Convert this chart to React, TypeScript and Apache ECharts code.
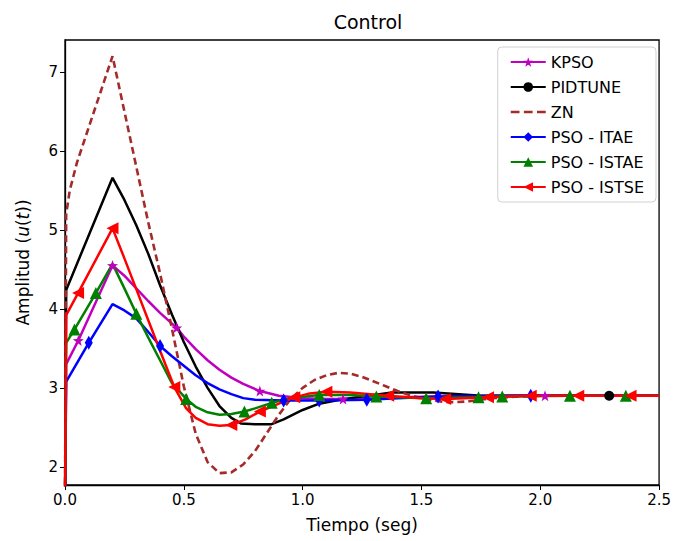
import React, { useEffect, useRef } from "react";
import * as echarts from "echarts";

const seriesNames = ["KPSO", "PIDTUNE", "ZN", "PSO - ITAE", "PSO - ISTAE", "PSO - ISTSE"];
const xTicks = [0, 0.5, 1.0, 1.5, 2.0, 2.5];
const yTicks = [2, 3, 4, 5, 6, 7];

const kpsoT = [0, 0.005, 0.056, 0.2, 0.25, 0.3, 0.35, 0.4, 0.47, 0.5, 0.55, 0.6, 0.65, 0.7, 0.75, 0.82, 0.9, 1.0, 1.1, 1.17, 1.3, 1.4, 1.57, 1.8, 2.02, 2.5];
const kpsoV = [1.5, 3.3, 3.6, 4.55, 4.42, 4.26, 4.1, 3.95, 3.76, 3.65, 3.49, 3.35, 3.23, 3.13, 3.05, 2.96, 2.9, 2.87, 2.86, 2.86, 2.87, 2.88, 2.89, 2.9, 2.9, 2.9];
const kpsoMarks = [0.056, 0.2, 0.47, 0.82, 1.17, 1.57, 2.02];

const pidT = [0, 0.005, 0.2, 0.25, 0.3, 0.35, 0.4, 0.45, 0.5, 0.55, 0.6, 0.65, 0.7, 0.74, 0.8, 0.87, 0.92, 1.0, 1.07, 1.14, 1.2, 1.3, 1.376, 1.55, 1.75, 2.0, 2.29, 2.5];
const pidV = [1.5, 4.24, 5.66, 5.38, 5.06, 4.7, 4.3, 3.93, 3.58, 3.27, 3.0, 2.77, 2.62, 2.55, 2.54, 2.54, 2.6, 2.72, 2.8, 2.84, 2.87, 2.91, 2.94, 2.94, 2.9, 2.9, 2.9, 2.9];
const pidMarks = [2.29];

const znT = [0, 0.005, 0.02, 0.05, 0.1, 0.15, 0.2, 0.25, 0.3, 0.35, 0.4, 0.45, 0.5, 0.55, 0.6, 0.65, 0.7, 0.75, 0.8, 0.85, 0.9, 0.95, 1.0, 1.05, 1.1, 1.15, 1.2, 1.25, 1.3, 1.35, 1.4, 1.45, 1.5, 1.55, 1.6, 1.65, 1.7, 1.75, 1.8, 1.9, 2.0, 2.5];
const znV = [1.5, 5.2, 5.5, 5.85, 6.3, 6.75, 7.2, 6.5, 5.8, 5.1, 4.45, 3.75, 3.02, 2.42, 2.06, 1.92, 1.93, 2.03, 2.2, 2.43, 2.66, 2.86, 3.0, 3.1, 3.16, 3.19, 3.18, 3.14, 3.08, 3.02, 2.96, 2.91, 2.87, 2.84, 2.82, 2.82, 2.83, 2.85, 2.87, 2.89, 2.9, 2.9];

const itaeT = [0, 0.005, 0.1, 0.2, 0.25, 0.3, 0.35, 0.4, 0.45, 0.5, 0.55, 0.6, 0.65, 0.7, 0.75, 0.8, 0.92, 1.07, 1.27, 1.4, 1.57, 1.96, 2.5];
const itaeV = [1.5, 3.08, 3.57, 4.06, 3.98, 3.88, 3.71, 3.53, 3.4, 3.28, 3.16, 3.06, 2.98, 2.92, 2.87, 2.85, 2.84, 2.84, 2.85, 2.87, 2.89, 2.9, 2.9];
const itaeMarks = [0.1, 0.4, 0.92, 1.07, 1.27, 1.57, 1.96];

const istaeT = [0, 0.005, 0.04, 0.13, 0.2, 0.25, 0.3, 0.35, 0.4, 0.45, 0.51, 0.55, 0.6, 0.65, 0.7, 0.755, 0.8, 0.87, 0.95, 1.07, 1.2, 1.31, 1.52, 1.74, 1.84, 2.125, 2.36, 2.5];
const istaeV = [1.5, 3.57, 3.74, 4.2, 4.57, 4.26, 3.94, 3.64, 3.35, 3.06, 2.86, 2.76, 2.69, 2.66, 2.67, 2.7, 2.74, 2.81, 2.87, 2.91, 2.91, 2.89, 2.87, 2.88, 2.89, 2.9, 2.9, 2.9];
const istaeMarks = [0.04, 0.13, 0.3, 0.51, 0.755, 0.87, 1.07, 1.31, 1.52, 1.74, 1.84, 2.125, 2.36];

const istseT = [0, 0.005, 0.055, 0.2, 0.25, 0.3, 0.35, 0.4, 0.46, 0.51, 0.55, 0.6, 0.65, 0.7, 0.76, 0.82, 0.9, 0.965, 1.03, 1.1, 1.2, 1.36, 1.5, 1.6, 1.78, 1.96, 2.16, 2.38, 2.5];
const istseV = [1.5, 3.92, 4.2, 5.02, 4.64, 4.25, 3.86, 3.47, 3.01, 2.74, 2.62, 2.54, 2.52, 2.53, 2.6, 2.7, 2.8, 2.88, 2.93, 2.95, 2.94, 2.9, 2.87, 2.86, 2.88, 2.9, 2.9, 2.9, 2.9];
const istseMarks = [0.055, 0.2, 0.46, 0.7, 0.82, 0.965, 1.1, 1.36, 1.6, 1.78, 1.96, 2.16, 2.38];

const STAR = "path://M0,-10L2.35,-3.24L9.51,-3.09L3.8,1.24L5.88,8.09L0,4L-5.88,8.09L-3.8,1.24L-9.51,-3.09L-2.35,-3.24Z";
const DASH_ICON = "path://M0,0h9v2.4h-9zM13.5,0h9v2.4h-9zM27,0h9v2.4h-9z";
const FONT = "DejaVu Sans";

function build(t: number[], v: number[], marks: number[]) {
  return t.map((x, i) =>
    marks.includes(x) ? { value: [x, v[i]] } : { value: [x, v[i]], symbol: "none" }
  );
}

export default function App() {
  const ref = useRef<HTMLDivElement>(null);
  useEffect(() => {
    const chart = echarts.init(ref.current!, null, { renderer: "svg" });
    const lineBase = (name: string, color: string) => ({
      name,
      type: "line",
      showSymbol: true,
      showAllSymbol: true,
      lineStyle: { color, width: 2.5 },
      itemStyle: { color },
      emphasis: { disabled: true },
    });
    chart.setOption({
      animation: false,
      title: {
        text: "Control",
        left: 363,
        textAlign: "center",
        top: 7,
        textStyle: { fontFamily: FONT, fontSize: 19, fontWeight: "normal", color: "#000" },
      },
      grid: {
        left: 65,
        right: 13,
        top: 40,
        bottom: 56,
        show: true,
        borderColor: "#000",
        borderWidth: 1.3,
        backgroundColor: "transparent",
      },
      legend: {
        orient: "vertical",
        right: 18,
        top: 47,
        data: [
          "KPSO",
          "PIDTUNE",
          { name: "ZN", icon: DASH_ICON, itemStyle: { color: "#a52a2a" } },
          "PSO - ITAE",
          "PSO - ISTAE",
          "PSO - ISTSE",
        ],
        itemWidth: 35,
        itemHeight: 12,
        itemGap: 9,
        padding: [7, 12, 7, 12],
        borderColor: "#d0d0d0",
        borderWidth: 1,
        borderRadius: 4,
        textStyle: { fontFamily: FONT, fontSize: 16, color: "#000" },
      },
      xAxis: {
        type: "value",
        min: 0,
        max: 2.5,
        interval: 0.5,
        name: "Tiempo (seg)",
        nameLocation: "middle",
        nameGap: 31,
        nameTextStyle: { fontFamily: FONT, fontSize: 17, color: "#000" },
        axisLine: { lineStyle: { color: "#000", width: 1.3 } },
        axisTick: { length: 5, lineStyle: { color: "#000" } },
        axisLabel: {
          fontFamily: FONT,
          fontSize: 15,
          color: "#000",
          margin: 7,
          formatter: (v: number) => v.toFixed(1),
        },
        splitLine: { show: false },
      },
      yAxis: {
        type: "value",
        min: 1.77,
        max: 7.405,
        name: "Amplitud ({i|u}({i|t}))",
        nameLocation: "middle",
        nameGap: 34,
        nameRotate: 90,
        nameTextStyle: {
          fontFamily: FONT,
          fontSize: 17,
          color: "#000",
          rich: { i: { fontFamily: FONT, fontSize: 17, fontStyle: "italic", color: "#000" } },
        },
        axisLine: { show: true, lineStyle: { color: "#000", width: 1.3 } },
        axisTick: { show: true, length: 5, lineStyle: { color: "#000" }, customValues: yTicks },
        axisLabel: { fontFamily: FONT, fontSize: 15, color: "#000", margin: 7, customValues: yTicks },
        splitLine: { show: false },
      },
      series: [
        { ...lineBase("KPSO", "#bf00bf"), symbol: STAR, symbolSize: 11, data: build(kpsoT, kpsoV, kpsoMarks) },
        { ...lineBase("PIDTUNE", "#000000"), symbol: "circle", symbolSize: 10, data: build(pidT, pidV, pidMarks) },
        {
          ...lineBase("ZN", "#a52a2a"),
          symbol: "none",
          lineStyle: { color: "#a52a2a", width: 2.6, type: [7, 4] },
          data: znT.map((x, i) => [x, znV[i]]),
        },
        { ...lineBase("PSO - ITAE", "#0000ff"), symbol: "diamond", symbolSize: [8, 14], data: build(itaeT, itaeV, itaeMarks) },
        { ...lineBase("PSO - ISTAE", "#008000"), symbol: "triangle", symbolSize: 12, data: build(istaeT, istaeV, istaeMarks) },
        { ...lineBase("PSO - ISTSE", "#ff0000"), symbol: "triangle", symbolRotate: 90, symbolSize: 12, data: build(istseT, istseV, istseMarks) },
      ],
    });
    return () => chart.dispose();
  }, []);
  return <div ref={ref} style={{ width: 674, height: 541, position: "absolute", left: 0, top: 0 }} />;
}
